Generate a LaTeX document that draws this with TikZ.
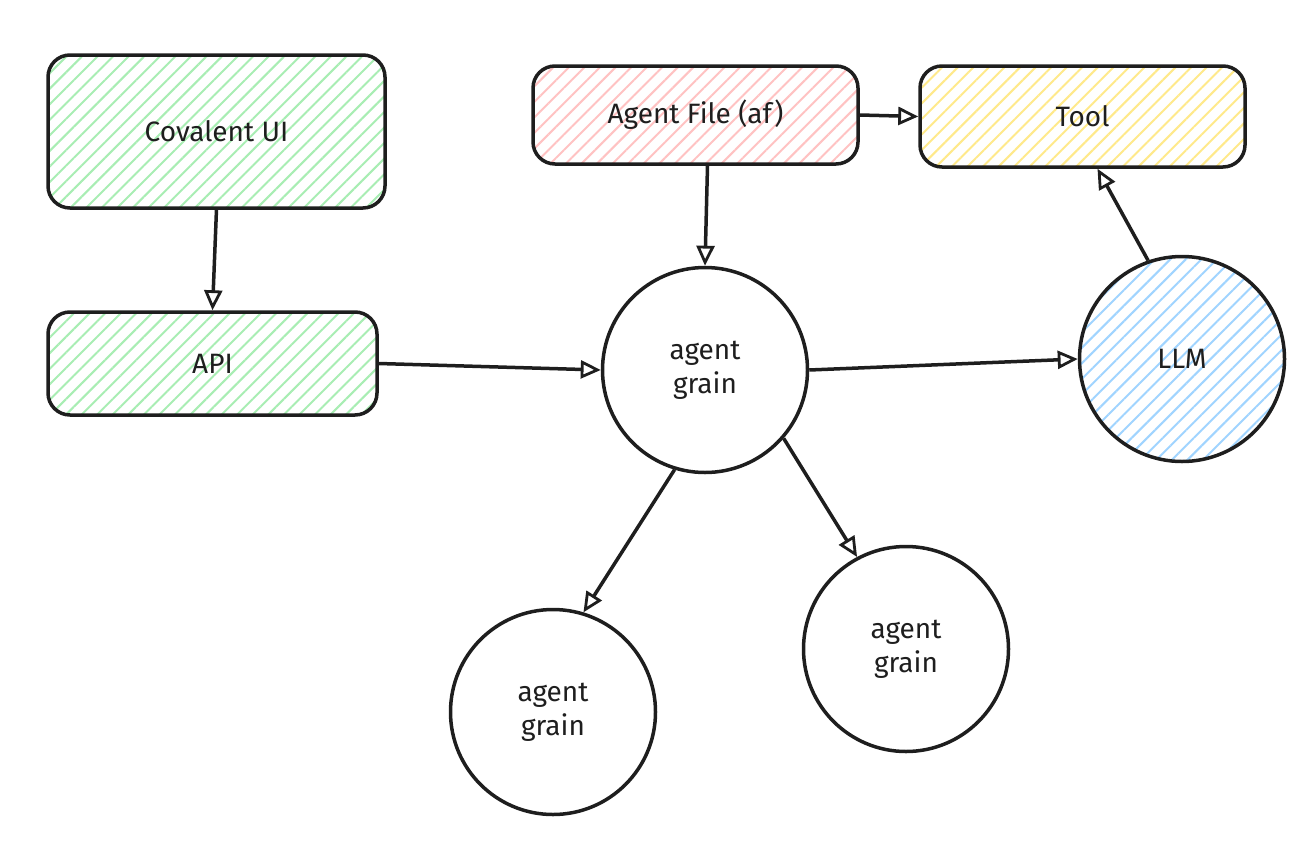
\documentclass[tikz,border=0pt]{standalone}
\usepackage{fontspec}
\setmainfont{Fira Sans}
\usetikzlibrary{arrows.meta,patterns.meta,calc}
\definecolor{hgreen}{HTML}{A8EDB3}
\definecolor{hred}{HTML}{FFC2C2}
\definecolor{hyellow}{HTML}{FFE98A}
\definecolor{hblue}{HTML}{A0D4FF}
\definecolor{ink}{HTML}{1E1E1E}
\tikzset{
  every node/.style={font=\fontsize{28}{34}\selectfont, text=ink},
  box/.style={draw=ink, line width=3.5pt, rounded corners=22pt, rectangle},
  grain/.style={draw=ink, line width=3.5pt, circle, inner sep=0pt, minimum size=205pt, align=center},
  hatch/.style={pattern={Lines[angle=45,distance=11pt,line width=2pt]}, pattern color=#1},
  conn/.style={draw=ink, line width=3.5pt, -{Triangle[open,length=20pt,width=18pt,line width=2.8pt]}},
}
\begin{document}
\begin{tikzpicture}[x=1pt,y=-1pt]
\useasboundingbox (0,0) rectangle (1316,854);
\node[box, hatch=hgreen, minimum width=337pt, minimum height=153pt] (ui) at (216.5,131.5) {Covalent UI};
\node[box, hatch=hgreen, minimum width=329pt, minimum height=103pt] (api) at (212.5,363.5) {API};
\node[box, hatch=hred, minimum width=325pt, minimum height=98pt] (af) at (695.5,115) {Agent File (af)};
\node[box, hatch=hyellow, minimum width=325pt, minimum height=101pt] (tool) at (1082.5,116.5) {Tool};
\node[grain] (ag) at (705,370) {agent\\grain};
\node[grain, hatch=hblue] (llm) at (1182,359) {LLM};
\node[grain] (bl) at (553,712) {agent\\grain};
\node[grain] (br) at (906,649) {agent\\grain};
\draw[conn] (ui.south) -- (api.north);
\draw[conn] (api.east) -- (ag.west);
\draw[conn] ([xshift=12pt]af.south) -- (ag.north);
\draw[conn] (af.east) -- (tool.west);
\draw[conn] (llm.109) -- ([xshift=15pt]tool.south);
\draw[conn] (ag.east) -- (llm.west);
\draw[conn] (ag.-107) -- (bl.73);
\draw[conn] (ag.-41) -- (br.118);
\end{tikzpicture}
\end{document}
